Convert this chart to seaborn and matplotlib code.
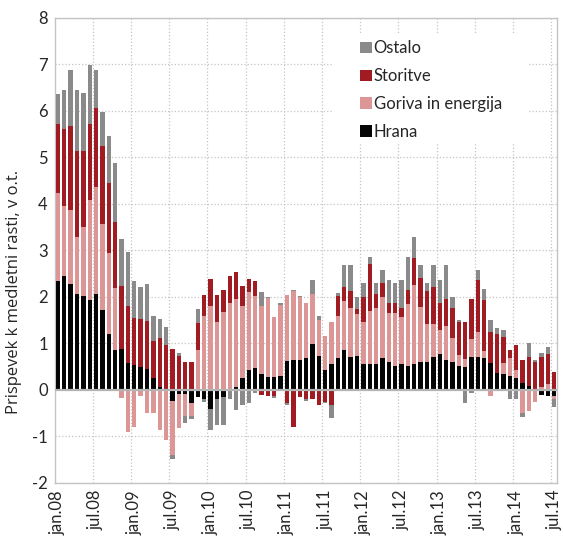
import numpy as np
import pandas as pd
import seaborn as sns
import matplotlib.pyplot as plt
from matplotlib.patches import Patch, Rectangle

# monthly contributions to y/y inflation, jan.08 .. jul.14 (p.p.)
hrana = [2.34, 2.46, 2.27, 2.06, 2.02, 1.93, 2.06, 1.71, 1.21, 0.86, 0.89, 0.59,
         0.54, 0.49, 0.46, 0.26, 0.06, 0.00, -0.24, -0.09, -0.09, -0.28, -0.15, -0.19,
         -0.40, -0.19, -0.15, 0.00, 0.06, 0.25, 0.44, 0.47, 0.34, 0.28, 0.28, 0.30,
         0.62, 0.64, 0.64, 0.68, 0.99, 0.74, 0.43, 0.55, 0.68, 0.86, 0.71, 0.74,
         0.55, 0.55, 0.55, 0.68, 0.61, 0.51, 0.55, 0.51, 0.55, 0.61, 0.61, 0.71,
         0.77, 0.64, 0.61, 0.51, 0.50, 0.71, 0.71, 0.68, 0.59, 0.37, 0.34, 0.30,
         0.26, 0.14, 0.09, 0.00, -0.10, -0.13, -0.14]
goriva = [1.89, 1.50, 1.61, 1.22, 1.48, 2.16, 2.31, 1.85, 1.73, 1.33, -0.18, -0.91,
          -0.79, -0.13, -0.50, -0.50, -0.86, -1.07, -1.16, -0.72, -0.47, -0.29, 0.85, 1.58,
          1.80, 1.47, 1.67, 1.86, 1.89, 1.55, 1.66, 1.54, 1.46, 1.69, 1.29, 1.52,
          1.43, 1.48, 1.35, 1.19, 1.07, 0.76, 0.72, 0.91, 0.91, 1.05, 1.06, 0.89,
          0.91, 1.14, 1.22, 1.32, 1.05, 1.15, 1.01, 1.33, 1.70, 1.18, 0.80, 0.70,
          0.52, 0.73, 0.51, 0.24, 0.16, 0.38, 0.54, 0.16, -0.13, 0.00, 0.25, 0.39,
          0.17, -0.49, -0.45, -0.25, 0.07, 0.12, -0.05]
storitve = [1.48, 1.66, 1.80, 1.86, 1.63, 1.62, 1.69, 1.69, 1.52, 1.43, 1.35, 1.22,
            1.01, 1.03, 1.03, 0.80, 1.05, 0.97, 0.88, 0.74, 0.60, 0.60, 0.59, 0.46,
            0.58, 0.57, 0.49, 0.59, 0.59, 0.43, 0.28, 0.34, -0.10, -0.12, -0.13, -0.03,
            -0.28, -0.79, -0.16, -0.20, -0.19, -0.32, -0.26, -0.32, 0.43, 0.30, 0.35, 0.11,
            0.53, 1.01, 0.29, 0.29, 0.21, 0.21, 0.20, 0.30, 0.59, 0.62, 0.71, 0.80,
            0.58, 0.59, 0.65, 0.71, 0.80, 0.87, 1.11, 1.10, 0.66, 0.84, 0.54, 0.18,
            0.53, 0.50, 0.61, 0.60, 0.64, 0.65, 0.39]
ostalo = [0.66, 0.84, 1.20, 1.32, 1.25, 1.27, 0.82, 0.73, 1.01, 1.26, 1.00, 1.15,
          0.79, 0.69, 0.78, 0.53, 0.41, 0.38, -0.09, 0.05, -0.15, -0.06, 0.31, -0.06,
          -0.47, -0.56, -0.60, -0.19, -0.43, -0.33, -0.29, -0.07, 0.30, 0.03, -0.05, 0.06,
          -0.05, 0.04, 0.03, -0.03, 0.31, 0.09, -0.03, -0.29, 0.07, 0.48, 0.57, 0.26,
          0.30, 0.17, 0.23, 0.30, 0.50, 0.42, 0.61, 0.73, 0.45, 0.28, 0.17, 0.48,
          0.50, 0.73, 0.23, 0.05, -0.29, -0.06, 0.23, 0.24, 0.25, 0.13, 0.16, -0.19,
          -0.19, -0.10, 0.30, 0.04, 0.09, 0.16, -0.18]

series_names = ["Hrana", "Goriva in energija", "Storitve", "Ostalo"]
colors = ["#050505", "#dc9696", "#a11c22", "#8a8a8a"]
xtick_labels = ["jan.08", "jul.08", "jan.09", "jul.09", "jan.10", "jul.10", "jan.11",
                "jul.11", "jan.12", "jul.12", "jan.13", "jul.13", "jan.14", "jul.14"]

sns.set_style("white")
plt.rcParams["font.family"] = ["Lato", "DejaVu Sans"]

n = len(hrana)
vals = np.array([hrana, goriva, storitve, ostalo])
pos = np.cumsum(np.clip(vals, 0, None), axis=0)
neg = np.cumsum(np.clip(vals, None, 0), axis=0)

df = pd.DataFrame({"mesec": np.arange(n)})
for k in range(4):
    df[f"pos{k}"] = pos[k]
    df[f"neg{k}"] = neg[k]

fig = plt.figure(figsize=(5.63, 5.37), dpi=100)
ax = fig.add_axes([0.0972, 0.1006, 0.893, 0.866])

# overlay cumulative bars, outermost layer first
for k in [3, 2, 1, 0]:
    for part in ["pos", "neg"]:
        sns.barplot(data=df, x="mesec", y=f"{part}{k}", color=colors[k],
                    saturation=1, width=0.68, linewidth=0, ax=ax, zorder=3)

ax.set_xlim(-0.5, n - 0.5)
ax.set_ylim(-2, 8)
ax.set_yticks(range(-2, 9))
ax.set_yticklabels([str(v) for v in range(-2, 9)], fontsize=12)
ax.set_xticks(np.arange(0, n, 6))
ax.set_xticklabels(xtick_labels, rotation=90, fontsize=12)
ax.tick_params(length=0, pad=5)
ax.set_xlabel("")
ax.set_ylabel("Prispevek k medletni rasti, v o.t.", fontsize=12,
              family=["Open Sans", "DejaVu Sans"])
ax.yaxis.set_label_coords(-0.066, 0.41)

for v in range(-2, 9):
    if v != 0:
        ax.axhline(v, color="#c4c4c4", lw=0.9, ls=":", zorder=0)
for i in range(6, n, 6):
    ax.axvline(i - 0.5, color="#c4c4c4", lw=0.9, ls=":", zorder=0)
ax.axhline(0, color="#b4b4b4", lw=1.6, zorder=4)

for s in ax.spines.values():
    s.set_color("#c4c4c4")
    s.set_linewidth(1.0)

# white patch behind the legend hides the grid there
ax.add_patch(Rectangle((43.3, 5.3), 30.5, 2.33, facecolor="white",
                       edgecolor="none", zorder=1))

handles = [Patch(facecolor=colors[k], edgecolor="none") for k in [3, 2, 1, 0]]
labels = [series_names[k] for k in [3, 2, 1, 0]]
leg = ax.legend(handles, labels, loc="upper left", bbox_to_anchor=(0.607, 0.952),
                borderaxespad=0, frameon=False, fontsize=12, handlelength=0.72,
                handleheight=0.68, handletextpad=0.1, labelspacing=0.71,
                borderpad=0)
leg.set_zorder(5)

fig.savefig("out.png", dpi=100)
